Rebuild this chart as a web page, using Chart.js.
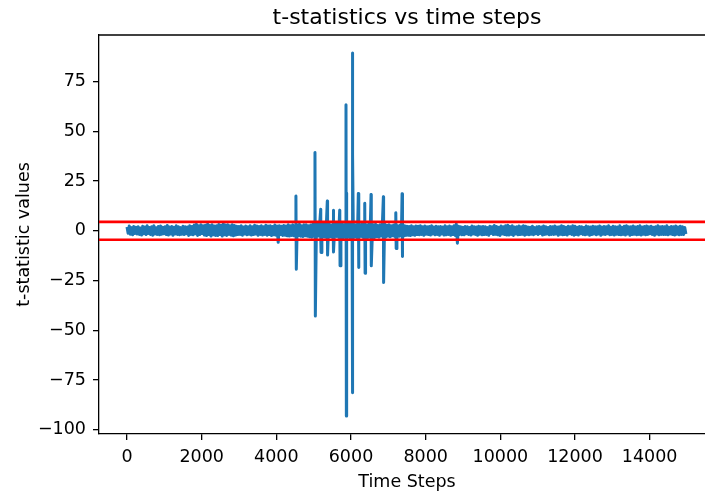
<!DOCTYPE html>
<html>
<head>
<meta charset="utf-8">
<title>t-statistics vs time steps</title>
<script src="https://cdn.jsdelivr.net/npm/chart.js@4/dist/chart.umd.min.js"></script>
<style>
  html, body { margin: 0; padding: 0; background: #fff; overflow: hidden; }
  #wrap { position: relative; width: 715px; height: 494px; }
</style>
</head>
<body>
<div id="wrap"><canvas id="tstat-chart" width="715" height="494"></canvas></div>
<script>
// Background band: upper and lower t-statistic reading in each 60-step window (0 .. 14940)
const windowSize = 60;
const bandHigh = [
  1.9, 2.4, 1.6, 2.2, 1.8, 2.0, 1.4, 2.3, 1.9, 2.5,
  1.7, 2.1, 2.6, 1.5, 2.2, 2.4, 1.8, 2.0, 2.7, 1.9,
  2.2, 1.8, 2.5, 2.0, 1.6, 2.3, 2.1, 1.9, 2.6, 2.2,
  2.9, 3.3, 2.5, 3.1, 2.6, 2.8, 3.4, 2.7, 3.0, 2.4,
  2.6, 3.2, 2.8, 3.5, 2.9, 3.1, 2.5, 3.0, 2.7, 2.3,
  2.2, 2.6, 1.9, 2.4, 2.1, 2.5, 2.0, 2.8, 2.4, 2.2,
  2.5, 2.0, 2.8, 2.4, 2.6, 2.2, 2.9, 2.4, 2.6, 2.3,
  2.7, 2.4, 3.0, 2.6, 3.1, 2.5, 2.9, 3.3, 2.6, 3.0,
  3.1, 2.5, 2.9, 3.4, 2.7, 3.6, 3.0, 3.3, 3.8, 3.2,
  3.6, 3.0, 3.2, 3.9, 3.4, 2.9, 3.7, 3.1, 3.5, 4.0,
  3.4, 3.8, 3.1, 3.5, 3.0, 4.1, 3.3, 2.9, 3.6, 3.1,
  3.0, 3.3, 2.7, 3.0, 3.2, 3.4, 2.8, 3.1, 2.6, 2.9,
  2.8, 2.6, 2.9, 2.4, 2.6, 2.3, 2.2, 2.5, 2.1, 2.4,
  2.3, 2.6, 2.1, 2.4, 2.0, 2.2, 2.5, 1.9, 2.3, 2.1,
  2.2, 1.9, 2.5, 2.1, 2.4, 2.0, 2.6, 3.4, 2.3, 2.0,
  1.8, 2.2, 2.0, 1.7, 2.4, 2.1, 1.9, 2.3, 2.0, 2.2,
  2.1, 1.6, 2.3, 2.0, 2.7, 2.2, 1.8, 2.4, 2.1, 2.5,
  2.8, 2.2, 2.5, 1.9, 2.1, 2.4, 2.0, 2.6, 2.3, 1.9,
  1.8, 2.3, 1.6, 2.0, 2.2, 1.9, 2.4, 2.1, 1.7, 2.2,
  2.0, 2.4, 1.9, 2.1, 2.6, 2.2, 1.8, 2.3, 2.0, 2.5,
  2.3, 1.8, 2.2, 2.0, 1.7, 2.4, 2.1, 1.9, 2.3, 2.0,
  2.1, 2.4, 1.9, 2.2, 2.0, 2.5, 1.8, 2.3, 2.1, 1.9,
  2.5, 1.8, 2.3, 2.6, 2.1, 2.0, 2.4, 1.9, 2.2, 2.5,
  1.9, 2.2, 2.4, 2.0, 2.3, 1.8, 2.1, 2.5, 2.0, 2.2,
  2.1, 2.5, 1.8, 2.2, 2.0, 2.4, 1.9, 2.3, 2.1, 1.7
];
const bandLow = [
  -1.2, -1.7, -2.0, -1.4, -1.6, -1.8, -2.1, -1.5, -1.9, -1.3,
  -1.8, -2.2, -1.6, -1.8, -2.0, -1.7, -1.5, -1.9, -2.1, -1.6,
  -2.2, -1.6, -1.8, -2.0, -1.7, -1.9, -1.5, -2.3, -1.8, -2.0,
  -1.5, -2.3, -1.9, -1.4, -2.1, -2.4, -1.9, -2.6, -2.0, -2.3,
  -2.4, -1.9, -2.6, -2.0, -2.3, -1.8, -2.2, -2.5, -2.1, -1.9,
  -1.8, -2.2, -1.6, -2.0, -1.7, -2.1, -1.9, -1.6, -2.2, -1.8,
  -2.1, -1.8, -2.2, -1.9, -2.4, -2.0, -2.2, -5.8, -1.9, -2.3,
  -2.2, -2.5, -2.6, -2.3, -2.5, -2.8, -2.4, -2.7, -2.9, -2.5,
  -2.7, -3.0, -3.2, -2.8, -3.1, -2.6, -3.3, -2.9, -3.2, -2.8,
  -2.9, -3.2, -3.4, -2.8, -3.3, -3.1, -3.6, -3.0, -3.2, -3.5,
  -3.5, -3.1, -3.3, -3.0, -2.8, -3.4, -2.9, -3.4, -3.2, -2.8,
  -3.3, -2.9, -3.2, -2.6, -3.0, -3.1, -2.7, -3.0, -2.5, -2.8,
  -3.0, -2.7, -2.5, -2.6, -2.3, -2.2, -2.4, -2.0, -2.2, -1.9,
  -2.0, -1.8, -2.2, -1.7, -1.9, -2.1, -1.6, -2.0, -1.8, -2.2,
  -1.6, -2.1, -2.0, -1.8, -2.2, -1.9, -2.3, -6.2, -1.8, -2.0,
  -2.0, -1.5, -1.9, -2.1, -1.6, -1.8, -2.2, -1.7, -2.0, -1.9,
  -1.8, -2.2, -1.4, -1.9, -1.7, -2.0, -2.3, -1.6, -1.9, -2.1,
  -2.1, -1.8, -2.3, -1.6, -2.0, -1.9, -1.7, -2.2, -1.8, -2.0,
  -1.7, -2.0, -1.5, -1.9, -1.4, -2.1, -1.8, -1.6, -2.0, -1.8,
  -1.8, -1.6, -2.2, -1.7, -2.0, -1.9, -2.1, -1.5, -1.8, -2.2,
  -1.9, -2.1, -1.5, -1.8, -2.0, -1.7, -2.2, -1.9, -1.6, -2.0,
  -1.6, -2.2, -1.7, -1.9, -1.5, -2.0, -1.8, -2.1, -1.7, -1.9,
  -2.0, -1.8, -2.1, -1.6, -2.2, -1.9, -1.7, -2.0, -1.8, -2.1,
  -1.7, -2.0, -1.8, -1.5, -1.9, -2.2, -1.6, -2.0, -1.8, -1.9,
  -1.8, -2.0, -1.6, -1.9, -2.1, -1.7, -2.0, -1.8, -1.9, -1.6
];

// Large excursions: time step, peak value, trough value
const spikeSteps = [4525, 5035, 5188, 5365, 5526, 5697, 5866, 5880, 6033, 6050, 6196, 6368, 6537, 6867, 7200, 7368];
const spikeHigh  = [17.5, 39.3, 10.8, 15.0, 10.3, 10.3, 63.3, 19.0, 89.3, 38.5, 18.8, 13.8, 18.3, 17.1,  9.1, 18.6];
const spikeLow   = [-19.3, -42.8, -10.9, -12.2, -10.6, -17.6, -93.0, -3.0, -81.4, -3.5, -18.4, -21.3, -17.6, -26.0, -8.9, -12.9];

// Threshold lines
const thresholds = [4.5, -4.5];

const xTicks = [0, 2000, 4000, 6000, 8000, 10000, 12000, 14000];
const yTicks = [-100, -75, -50, -25, 0, 25, 50, 75];
const xRange = [-750, 15750];
const yRange = [-102.1, 98.4];

// high and low of each window alternate, so the line fills the band
const points = [];
bandHigh.forEach((v, i) => {
  points.push({ x: i * windowSize, y: v }, { x: i * windowSize + windowSize / 2, y: bandLow[i] });
});
spikeSteps.forEach((s, i) => {
  points.push({ x: s, y: spikeHigh[i] }, { x: s + 10, y: spikeLow[i] });
});
points.sort((a, b) => a.x - b.x);

const thresholdSets = thresholds.map(t => ({
  label: 'threshold ' + t,
  data: [{ x: xRange[0], y: t }, { x: xRange[1], y: t }],
  borderColor: '#ff0000',
  borderWidth: 2.7,
  pointRadius: 0,
  order: 0
}));

// matplotlib-like top spine (chart.js only draws the scale borders)
const topSpine = {
  id: 'topSpine',
  afterDraw(chart) {
    const { ctx, chartArea } = chart;
    ctx.save();
    ctx.strokeStyle = '#000';
    ctx.lineWidth = 1.3;
    ctx.beginPath();
    ctx.moveTo(chartArea.left, chartArea.top);
    ctx.lineTo(chartArea.right, chartArea.top);
    ctx.stroke();
    ctx.restore();
  }
};

const fontFamily = '"DejaVu Sans", sans-serif';
const minus = v => String(v).replace('-', '\u2212');

new Chart(document.getElementById('tstat-chart'), {
  type: 'line',
  data: {
    datasets: [
      {
        label: 't-statistic',
        data: points,
        borderColor: '#1f77b4',
        borderWidth: 3,
        borderJoinStyle: 'round',
        pointRadius: 0,
        tension: 0,
        order: 1
      },
      ...thresholdSets
    ]
  },
  options: {
    responsive: false,
    animation: false,
    devicePixelRatio: 1,
    layout: { padding: 0 },
    plugins: {
      legend: { display: false },
      tooltip: { enabled: false },
      title: {
        display: true,
        text: 't-statistics vs time steps',
        fullSize: false,
        color: '#000',
        font: { family: fontFamily, size: 22, weight: 'normal' },
        padding: { top: 5, bottom: 3.6 }
      }
    },
    scales: {
      x: {
        type: 'linear',
        min: xRange[0],
        max: xRange[1],
        afterFit: s => { s.height = 60; },
        afterBuildTicks: s => { s.ticks = xTicks.map(v => ({ value: v })); },
        grid: { drawOnChartArea: false, drawTicks: true, tickLength: 6, color: '#000', lineWidth: 1.3 },
        border: { display: true, color: '#000', width: 1.3 },
        ticks: {
          color: '#000',
          padding: 7,
          maxRotation: 0,
          font: { family: fontFamily, size: 17.5 },
          callback: v => minus(v)
        },
        title: {
          display: true,
          text: 'Time Steps',
          color: '#000',
          font: { family: fontFamily, size: 17.5 },
          padding: { top: 0, bottom: 1 }
        }
      },
      y: {
        type: 'linear',
        min: yRange[0],
        max: yRange[1],
        afterFit: s => { s.width = 99; },
        afterBuildTicks: s => { s.ticks = yTicks.map(v => ({ value: v })); },
        grid: { drawOnChartArea: false, drawTicks: true, tickLength: 6, color: '#000', lineWidth: 1.3 },
        border: { display: true, color: '#000', width: 1.3 },
        ticks: {
          color: '#000',
          padding: 7,
          font: { family: fontFamily, size: 17.5 },
          callback: v => minus(v)
        },
        title: {
          display: true,
          text: 't-statistic values',
          color: '#000',
          font: { family: fontFamily, size: 17.5 },
          padding: { top: 14, bottom: 0 }
        }
      }
    }
  },
  plugins: [topSpine]
});
</script>
</body>
</html>
